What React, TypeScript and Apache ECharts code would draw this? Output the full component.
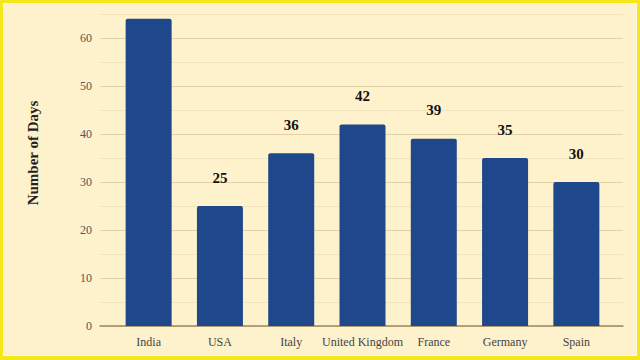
import React, { useEffect, useRef } from "react";
import * as echarts from "echarts";

const categories = ["India", "USA", "Italy", "United Kingdom", "France", "Germany", "Spain"];
const days = [64, 25, 36, 42, 39, 35, 30];
const hiddenLabels = ["India"];

const FONT = "'Liberation Serif', 'DejaVu Serif', serif";

export default function App() {
  const ref = useRef<HTMLDivElement>(null);
  useEffect(() => {
    if (!ref.current) return;
    const chart = echarts.init(ref.current, null, { renderer: "svg" });
    const top = 14;
    const bottom = 34;
    chart.setOption({
      animation: false,
      backgroundColor: "#fef2cc",
      grid: [
        { left: 100, right: 17, top, bottom },
        { left: 113, right: 28, top, bottom },
      ],
      xAxis: [
        {
          gridIndex: 0,
          type: "value",
          min: 0,
          max: 1,
          axisLine: { show: true, onZero: false, lineStyle: { color: "#9c8a62", width: 1.5 } },
          axisTick: { show: false },
          axisLabel: { show: false },
          splitLine: { show: false },
        },
        {
          gridIndex: 1,
          type: "category",
          data: categories,
          axisLine: { show: false },
          axisTick: { show: false },
          axisLabel: { color: "#444", fontFamily: FONT, fontSize: 12, margin: 10, interval: 0 },
        },
      ],
      yAxis: [
        {
          gridIndex: 0,
          type: "value",
          min: 0,
          max: 65,
          interval: 5,
          axisLine: { show: false },
          axisTick: { show: false },
          axisLabel: {
            color: "#555",
            fontFamily: FONT,
            fontSize: 12,
            margin: 8,
            formatter: (v: number) => (v % 10 === 0 ? String(v) : ""),
          },
          splitLine: { show: true, lineStyle: { color: ["#e2d3a6", "#f1e5c0"], width: 1 } },
        },
        {
          gridIndex: 1,
          type: "value",
          min: 0,
          max: 65,
          show: false,
          splitLine: { show: false },
        },
      ],
      graphic: [
        {
          type: "text",
          x: 33,
          y: 153,
          rotation: Math.PI / 2,
          style: {
            text: "Number of Days",
            font: `bold 15px ${FONT}`,
            fill: "#222",
            align: "center",
            verticalAlign: "middle",
          },
        },
      ],
      series: [
        {
          type: "bar",
          xAxisIndex: 1,
          yAxisIndex: 1,
          barWidth: 46,
          itemStyle: { color: "#1e478c", borderRadius: [2, 2, 0, 0] },
          data: days.map((v, i) => ({
            value: v,
            label: { show: !hiddenLabels.includes(categories[i]) },
          })),
          label: {
            show: true,
            position: "top",
            distance: 21,
            color: "#111",
            fontFamily: FONT,
            fontWeight: "bold",
            fontSize: 15,
          },
        },
      ],
    });
    return () => chart.dispose();
  }, []);
  return (
    <div style={{ position: "fixed", left: 0, top: 0, width: 640, height: 360 }}>
      <div ref={ref} style={{ width: 640, height: 360 }} />
      <div
        style={{
          position: "absolute",
          left: 0,
          top: 0,
          width: 640,
          height: 360,
          boxSizing: "border-box",
          border: "3px solid #f6e61c",
          borderBottomWidth: 4,
          pointerEvents: "none",
        }}
      />
      <div
        style={{
          position: "absolute",
          left: 3,
          top: 3,
          width: 634,
          height: 353,
          boxSizing: "border-box",
          border: "1px solid #fdf9ee",
          pointerEvents: "none",
        }}
      />
    </div>
  );
}
